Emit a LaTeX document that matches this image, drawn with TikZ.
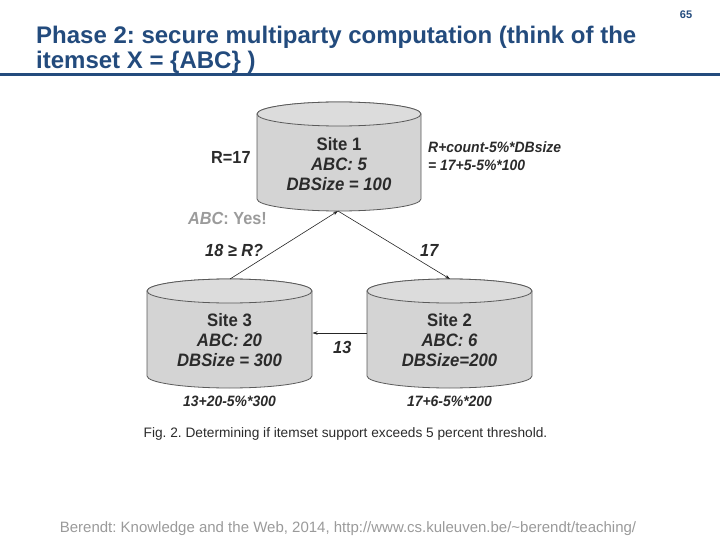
\documentclass[tikz,border=0pt]{standalone}
\usepackage{fontspec}
\setmainfont{Liberation Sans}
\newfontfamily\figfont[FakeStretch=0.93]{Liberation Sans}
\usetikzlibrary{arrows.meta}
\frenchspacing
\definecolor{titleblue}{HTML}{234B7D}
\definecolor{figtext}{HTML}{2B2B2B}
\definecolor{yesgray}{HTML}{9B9B9B}
\definecolor{footgray}{HTML}{9A9A9A}
\definecolor{cylfill}{HTML}{D4D4D4}
\definecolor{cyltop}{HTML}{DCDCDC}
\definecolor{cyldraw}{HTML}{5A5A5A}
\tikzset{
  cylbody/.style={draw=cyldraw, line width=0.8pt, fill=cylfill},
  cyltopst/.style={draw=cyldraw, line width=0.8pt, fill=cyltop},
  sitetext/.style={font=\figfont\fontsize{18}{20}\bfseries, text=figtext, align=center, inner sep=0pt},
  lab/.style={font=\figfont\fontsize{17.5}{20}\bfseries\itshape, text=figtext, inner sep=0pt},
  formula/.style={font=\figfont\fontsize{15}{18}\bfseries\itshape, text=figtext, inner sep=0pt, align=left},
  conn/.style={draw=black!85, line width=0.6pt, -{Stealth[length=5pt,width=3.5pt]}},
}
\newcommand{\drawcyl}[4]{% cx, topy, boty, rx
  \path[cylbody] (#1-#4,#2) -- (#1-#4,#3)
     arc[start angle=180,end angle=360,x radius=#4 pt,y radius=12pt]
     -- (#1+#4,#2)
     arc[start angle=0,end angle=180,x radius=#4 pt,y radius=12pt] -- cycle;
  \draw[cyltopst] (#1,#2) ellipse[x radius=#4 pt, y radius=12pt];
}
\begin{document}
\begin{tikzpicture}[x=1pt,y=-1pt]
\useasboundingbox (0,0) rectangle (720,540);
% title
\node[anchor=base west, inner sep=0pt, font=\fontsize{24}{25}\selectfont\bfseries, text=titleblue] (t1) at (36,44) {Phase 2: secure multiparty computation (think of the};
\node[anchor=base west, inner sep=0pt, font=\fontsize{24}{25}\selectfont\bfseries, text=titleblue] (t2) at (36,69) {itemset X = \{ABC\} )};
\draw[titleblue, line width=3pt] (0,75) -- (720,75);
\node[anchor=base, inner sep=0pt, font=\fontsize{11}{11}\selectfont\bfseries, text=titleblue] (pg) at (686,19) {65};
% cylinders
\drawcyl{339}{114}{199}{82}
\drawcyl{229.5}{291}{376}{82.5}
\drawcyl{449.5}{291}{376}{82.5}
\node[sitetext] (s1) at (339,164) {Site 1\\\itshape ABC: 5\\\itshape DBSize = 100};
\node[sitetext] (s3) at (229.5,340) {Site 3\\\itshape ABC: 20\\\itshape DBSize = 300};
\node[sitetext] (s2) at (449.5,340) {Site 2\\\itshape ABC: 6\\\itshape DBSize=200};
\coordinate (s1bot) at (338,211);
\coordinate (s3top) at (230,279);
\coordinate (s2top) at (450,279);
\coordinate (s2left) at (367,333);
\coordinate (s3right) at (312.5,333);
% connectors
\draw[conn] (s3top) -- (s1bot);
\draw[conn] (s1bot) -- (s2top);
\draw[conn] (s2left) -- (s3right);
% labels
\node[lab, font=\figfont\fontsize{17.5}{20}\bfseries, anchor=base west] (r17) at (211,164) {R=17};
\node[formula, anchor=base west] (f1) at (428,153) {R+count-5\%*DBsize};
\node[formula, anchor=base west] (f2) at (428,171) {= 17+5-5\%*100};
\node[lab, anchor=base west, text=yesgray] (yes) at (188,225) {ABC\upshape: Yes!};
\node[lab, anchor=base west] (q) at (205,256) {18 ≥ R?};
\node[lab, anchor=base west] (l17) at (420,256) {17};
\node[lab, anchor=base west] (l13) at (333,353) {13};
\node[formula, anchor=base] (f3) at (229.5,406) {13+20-5\%*300};
\node[formula, anchor=base] (f4) at (449.5,406) {17+6-5\%*200};
\node[anchor=base, inner sep=0pt, font=\fontsize{13.7}{16}\selectfont, text=figtext] (cap) at (345.5,437) {Fig. 2. Determining if itemset support exceeds 5 percent threshold.};
% footer
\node[anchor=base, inner sep=0pt, font=\fontsize{15}{16}\selectfont, text=footgray] (ft) at (348,532) {Berendt: Knowledge and the Web, 2014, http://www.cs.kuleuven.be/\textasciitilde berendt/teaching/};
\end{tikzpicture}
\end{document}
